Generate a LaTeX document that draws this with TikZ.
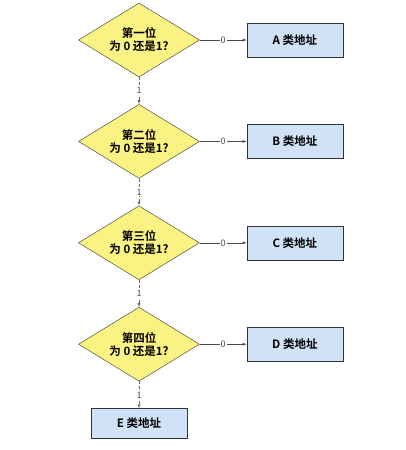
\documentclass[tikz,border=0pt]{standalone}
\usepackage{fontspec}
\setmainfont{Noto Sans CJK SC}[BoldFont={Noto Sans CJK SC Bold}]
\usetikzlibrary{shapes.geometric,arrows,positioning}

\definecolor{askyellow}{RGB}{250,242,130}
\definecolor{classblue}{RGB}{207,226,247}

\tikzset{
  ask/.style={diamond, draw=black!80, fill=askyellow, inner sep=0pt,
    shape aspect=1.64, minimum width=121pt, minimum height=74pt, align=center,
    font=\bfseries\fontsize{11.5}{13}\selectfont},
  classbox/.style={rectangle, draw=black!80, fill=classblue,
    minimum width=96pt, minimum height=34pt,
    font=\bfseries\fontsize{11.5}{13}\selectfont},
  bit/.style={fill=white, inner sep=1pt, font=\fontsize{9}{10}\selectfont, text=black!70}
}

\begin{document}
\begin{tikzpicture}[x=1pt, y=1pt, >=latex, node distance=27pt]
  \useasboundingbox (0,0) rectangle (405,-450);
  \node[ask] (d1) at (139,-40) {第一位\\为 0 还是1?};
  \node[ask] (d2) [below=of d1] {第二位\\为 0 还是1?};
  \node[ask] (d3) [below=of d2] {第三位\\为 0 还是1?};
  \node[ask] (d4) [below=of d3] {第四位\\为 0 还是1?};
  \node[classbox] (a) [right=47pt of d1] {A 类地址};
  \node[classbox] (b) [right=47pt of d2] {B 类地址};
  \node[classbox] (c) [right=47pt of d3] {C 类地址};
  \node[classbox] (d) [right=47pt of d4] {D 类地址};
  \node[classbox, minimum height=30pt] (e) [below=of d4] {E 类地址};
  \foreach \from/\to in {d1/a, d2/b, d3/c, d4/d}
    \draw[->, black!70] (\from) -- node[bit] {0} (\to);
  \foreach \from/\to in {d1/d2, d2/d3, d3/d4, d4/e}
    \draw[->, black!60, densely dashed] (\from) -- node[bit] {1} (\to);
\end{tikzpicture}
\end{document}
